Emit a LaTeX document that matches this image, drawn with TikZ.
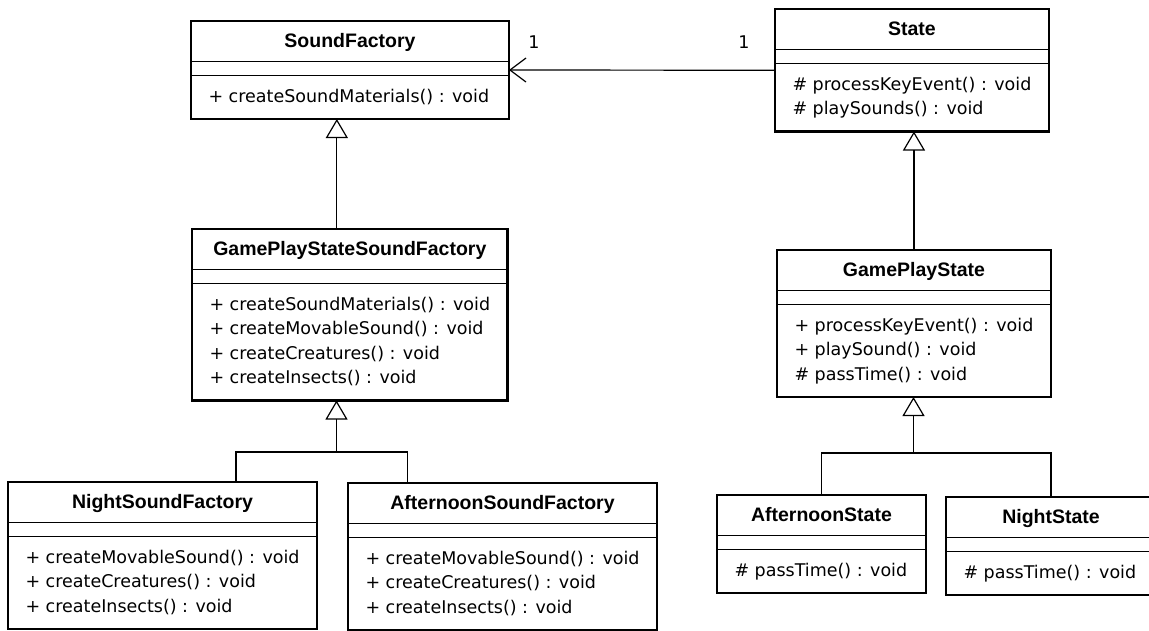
\documentclass[tikz,border=0pt]{standalone}
\usepackage{fontspec}
\setmainfont{DejaVu Sans}
\newfontfamily\titlefont{Liberation Sans}
\usetikzlibrary{shapes.multipart,arrows.meta}

\newcommand{\clsname}[1]{\rule[-13.5pt]{0pt}{39pt}{\titlefont\bfseries\fontsize{19.5}{24}\selectfont #1}}
\newcommand{\clsgap}{\rule{0pt}{13pt}}
\newcommand{\clsops}[1]{\rule{0pt}{26.5pt}#1\rule[-16.5pt]{0pt}{16.5pt}}

\begin{document}
\begin{tikzpicture}[x=1pt, y=-1pt, font=\fontsize{17.5}{24.5}\selectfont]
	\tikzstyle{umlclass} = [rectangle split, rectangle split parts=3, rectangle split part align={center,left,left}, draw, line width=1pt, inner xsep=17.5pt, inner ysep=0pt, outer sep=0pt, align=left, anchor=north west]
	\tikzstyle{border} = [draw, line width=2.8pt]
	\tikzstyle{association} = [draw, line width=1.2pt, -{Straight Barb[length=16pt,width=24pt]}]
	\tikzstyle{generalization} = [draw, line width=1.2pt, -{Triangle[open,length=19pt,width=22pt]}]
	\tikzstyle{branch} = [draw, line width=1.2pt]
\useasboundingbox (0,0) rectangle (1149,630);
\node [umlclass, minimum width=318pt] at (191,21) (sf) {\clsname{SoundFactory}\nodepart{two}\clsgap\nodepart{three}\clsops{+ createSoundMaterials() : void}};
\node [umlclass, minimum width=273pt] at (775,9) (st) {\clsname{State}\nodepart{two}\clsgap\nodepart{three}\clsops{\# processKeyEvent() : void\\\# playSounds() : void}};
\node [umlclass, minimum width=315pt] at (192,229) (gpssf) {\clsname{GamePlayStateSoundFactory}\nodepart{two}\clsgap\nodepart{three}\clsops{+ createSoundMaterials() : void\\+ createMovableSound() : void\\+ createCreatures() : void\\+ createInsects() : void}};
\node [umlclass, minimum width=273pt] at (777,250) (gps) {\clsname{GamePlayState}\nodepart{two}\clsgap\nodepart{three}\clsops{+ processKeyEvent() : void\\+ playSound() : void\\\# passTime() : void}};
\node [umlclass, minimum width=307pt] at (8,482) (nsf) {\clsname{NightSoundFactory}\nodepart{two}\clsgap\nodepart{three}\clsops{+ createMovableSound() : void\\+ createCreatures() : void\\+ createInsects() : void}};
\node [umlclass, minimum width=306pt] at (348,483) (asf) {\clsname{AfternoonSoundFactory}\nodepart{two}\clsgap\nodepart{three}\clsops{+ createMovableSound() : void\\+ createCreatures() : void\\+ createInsects() : void}};
\node [umlclass, minimum width=209pt] at (717,495) (ast) {\clsname{AfternoonState}\nodepart{two}\clsgap\nodepart{three}\clsops{\# passTime() : void}};
\node [umlclass, minimum width=210pt] at (946,497) (nst) {\clsname{NightState}\nodepart{two}\clsgap\nodepart{three}\clsops{\# passTime() : void}};
\foreach \cls in {sf,st,gpssf,gps,nsf,asf,ast,nst}
	\path [border] (\cls.north west) rectangle (\cls.south east);
% multiplicities
\node at (534,42) (multsf) {1};
\node at (744,42) (multst) {1};
\path [association] (st.west) -- (sf.east);
% factory hierarchy
\coordinate (gpssfup) at ([xshift=-13pt]gpssf.north);
\path [generalization] (gpssfup) -- (gpssfup |- sf.south);
\coordinate (gpssfjoin) at (336.5,452);
\path [generalization] (gpssfjoin) -- (gpssfjoin |- gpssf.south);
\path [branch] ([xshift=73.5pt]nsf.north) |- (gpssfjoin) -| ([xshift=-95pt]asf.north);
% state hierarchy
\path [generalization] (gps.north) -- (gps.north |- st.south);
\coordinate (gpsjoin) at (913.5,453);
\path [generalization] (gpsjoin) -- (gpsjoin |- gps.south);
\path [branch] (ast.north) |- (gpsjoin) -| (nst.north);
\end{tikzpicture}
\end{document}
